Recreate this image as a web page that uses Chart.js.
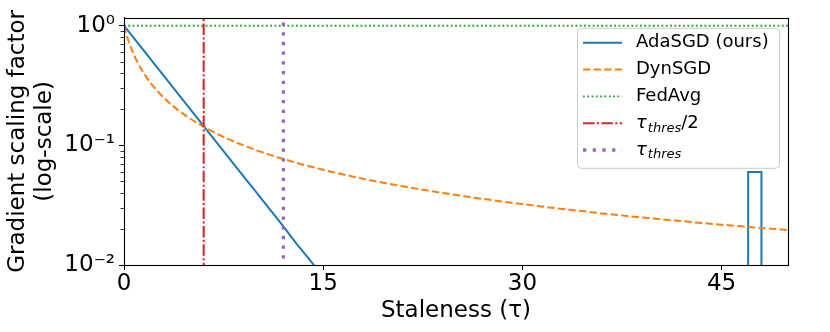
<!DOCTYPE html>
<html>
<head>
<meta charset="utf-8">
<script src="https://cdn.jsdelivr.net/npm/chart.js@4/dist/chart.umd.min.js"></script>
<style>
html,body{margin:0;padding:0;background:#fff;}
canvas{display:block;}
</style>
</head>
<body>
<canvas id="c" width="830" height="332"></canvas>
<script>
// ---- data ----
const adaTau = [0,1,2,3,4,5,6,7,8,9,10,11,12,13,14,15,47,47,48,48];
const adaVal = [1,0.725,0.525,0.381,0.276,0.2,0.145,0.105,0.076,0.055,0.04,0.029,0.021,0.015,0.011,0.008,0.000001,0.06,0.06,0.000001];
const dynTau = [0,0.25,0.5,0.75,1,1.5,2,2.5,3,3.5,4,5,6,7,8,9,10,11,12,13,14,15,16,17,18,19,20,21,22,23,24,25,26,27,28,29,30,31,32,33,34,35,36,37,38,39,40,41,42,43,44,45,46,47,48,49,50];
const dynVal = [1,0.8,0.667,0.571,0.5,0.4,0.333,0.286,0.25,0.222,0.2,0.167,0.143,0.125,0.111,0.1,0.0909,0.0833,0.0769,0.0714,0.0667,0.0625,0.0588,0.0556,0.0526,0.05,0.0476,0.0455,0.0435,0.0417,0.04,0.0385,0.037,0.0357,0.0345,0.0333,0.0323,0.0313,0.0303,0.0294,0.0286,0.0278,0.027,0.0263,0.0256,0.025,0.0244,0.0238,0.0233,0.0227,0.0222,0.0217,0.0213,0.0208,0.0204,0.02,0.0196];
const fedTau = [0,50];
const fedVal = [1,1];
const halfThresTau = [6,6];
const thresTau = [12,12];
const vLineVal = [0.001,10];
const xTicks = [0,15,30,45];
const yTicks = [0.01,0.1,1];
const yTickLabels = ['10\u207B\u00B2','10\u207B\u00B9','10\u2070'];
const seriesLabels = ['AdaSGD (ours)','DynSGD','FedAvg','\u03C4thres/2','\u03C4thres'];

const FONT = "'DejaVu Sans', sans-serif";
const pts = (xs, ys) => xs.map((x,i)=>({x:x, y:ys[i]}));

const styles = [
  {color:'#1f77b4', width:2, dash:[]},
  {color:'#ff7f0e', width:2, dash:[7.4,3.2]},
  {color:'#2ca02c', width:1.8, dash:[1.8,2.5]},
  {color:'#d62728', width:2.1, dash:[11.5,2.4,2.1,2.4]},
  {color:'#9467bd', width:3.3, dash:[3.3,6.4]}
];

const datasets = [
  {data: pts(adaTau, adaVal)},
  {data: pts(dynTau, dynVal), cubicInterpolationMode:'monotone'},
  {data: pts(fedTau, fedVal)},
  {data: pts(halfThresTau, vLineVal)},
  {data: pts(thresTau, vLineVal)}
].map((d,i)=>Object.assign({
  label: seriesLabels[i],
  borderColor: styles[i].color,
  borderWidth: styles[i].width,
  borderDash: styles[i].dash,
  borderCapStyle: 'butt',
  pointRadius: 0,
  fill: false,
  tension: 0,
  order: 10 - i,
  clip: 0
}, d));

const framePlugin = {
  id: 'frame',
  afterDatasetsDraw(chart){
    const ctx = chart.ctx, ca = chart.chartArea, ys = chart.scales.y;
    ctx.save();
    ctx.strokeStyle = '#000';
    ctx.lineWidth = 1.1;
    ctx.strokeRect(Math.round(ca.left)+0.5, Math.round(ca.top)+0.5, Math.round(ca.right-ca.left), Math.round(ca.bottom-ca.top));
    // minor ticks
    ctx.lineWidth = 0.8;
    for (let k=-2;k<=0;k++){
      for (let m=2;m<=9;m++){
        const v = m*Math.pow(10,k);
        if (v>ys.max || v<ys.min) continue;
        const y = Math.round(ys.getPixelForValue(v))+0.5;
        ctx.beginPath(); ctx.moveTo(ca.left-3.5, y); ctx.lineTo(ca.left, y); ctx.stroke();
      }
    }
    ctx.restore();
  },
  afterDraw(chart){
    const ctx = chart.ctx, ca = chart.chartArea;
    const x0 = ca.right - 211, y0 = ca.top + 10, w = 202, h = 140;
    ctx.save();
    ctx.beginPath();
    ctx.roundRect(x0+0.5, y0+0.5, w, h, 4);
    ctx.fillStyle = 'rgba(255,255,255,0.8)';
    ctx.fill();
    ctx.strokeStyle = '#cccccc';
    ctx.lineWidth = 1;
    ctx.stroke();
    chart.data.datasets.forEach((ds,i)=>{
      const cy = y0 + 15 + i*26.8;
      ctx.beginPath();
      ctx.strokeStyle = ds.borderColor;
      ctx.lineWidth = ds.borderWidth;
      ctx.lineCap = 'butt';
      ctx.setLineDash(ds.borderDash);
      ctx.moveTo(x0+6, cy); ctx.lineTo(x0+45, cy);
      ctx.stroke();
      ctx.setLineDash([]);
      ctx.fillStyle = '#000';
      ctx.textBaseline = 'middle';
      ctx.textAlign = 'left';
      let tx = x0 + 59;
      const lbl = ds.label;
      if (lbl.startsWith('\u03C4thres')) {
        ctx.font = "italic 18px " + FONT;
        ctx.fillText('\u03C4', tx, cy);
        tx += ctx.measureText('\u03C4').width + 1;
        ctx.font = "italic 13px " + FONT;
        ctx.fillText('thres', tx, cy + 5);
        tx += ctx.measureText('thres').width;
        const rest = lbl.slice(6);
        if (rest) { ctx.font = "18px " + FONT; ctx.fillText(rest, tx, cy); }
      } else {
        ctx.font = "18px " + FONT;
        ctx.fillText(lbl, tx, cy);
      }
    });
    ctx.restore();
  }
};

new Chart(document.getElementById('c'), {
  type: 'line',
  data: { datasets },
  plugins: [framePlugin],
  options: {
    responsive: false,
    animation: false,
    events: [],
    layout: { padding: { top: 16, right: 42, left: 0, bottom: 0 } },
    plugins: { legend: { display: false }, tooltip: { enabled: false } },
    scales: {
      x: {
        type: 'linear', min: 0, max: 50,
        afterBuildTicks: s => { s.ticks = xTicks.map(v => ({value: v})); },
        afterFit: s => { s.height = 67; },
        grid: { drawOnChartArea: false, drawTicks: true, tickLength: 5, color: '#000', tickWidth: 1 },
        border: { display: true, color: '#000', width: 1 },
        ticks: { color: '#000', font: { family: FONT, size: 23 }, padding: 0, maxRotation: 0, autoSkip: false },
        title: { display: true, text: 'Staleness (\u03C4)', color: '#000', font: { family: FONT, size: 23, lineHeight: 1.17 }, padding: { top: 0, bottom: 8 } }
      },
      y: {
        type: 'logarithmic', min: 0.01, max: 1.165,
        afterBuildTicks: s => { s.ticks = yTicks.map(v => ({value: v})); },
        afterFit: s => { s.width = 124; },
        grid: { drawOnChartArea: false, drawTicks: true, tickLength: 5, color: '#000', tickWidth: 1 },
        border: { display: true, color: '#000', width: 1 },
        ticks: { color: '#000', font: { family: FONT, size: 23 }, padding: 4, autoSkip: false,
                 callback: (v, i) => yTickLabels[i] },
        title: { display: true, text: ['Gradient scaling factor', '(log-scale)'], color: '#000', font: { family: FONT, size: 23, lineHeight: 1.17 }, padding: { top: 5, bottom: 0 } }
      }
    }
  }
});
</script>
</body>
</html>
